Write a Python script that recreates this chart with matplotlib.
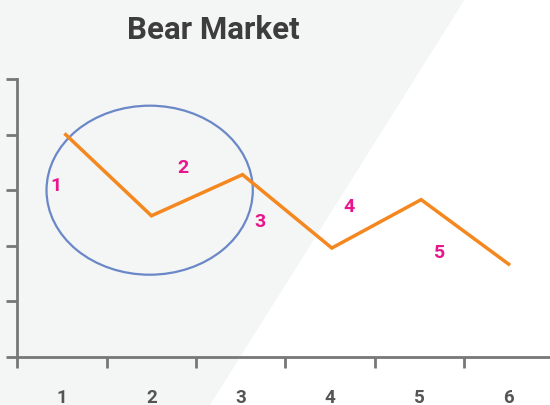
import matplotlib
matplotlib.use('Agg')
import matplotlib.pyplot as plt
from matplotlib.patches import Ellipse, Polygon

# data
labels = ['1', '2', '3', '4', '5', '6']
xs = [1.04, 2.0, 3.02, 4.02, 5.02, 6.0]
prices = [4.0, 2.54, 3.28, 1.96, 2.83, 1.67]

wave_labels = ['1', '2', '3', '4', '5']
wave_x = [0.93, 2.35, 3.21, 4.21, 5.23]
wave_y = [3.09, 3.41, 2.45, 2.72, 1.89]

circle_center = (1.98, 3.0)
circle_w = 2.31
circle_h = 3.04

plt.rcParams['font.family'] = ['Roboto', 'DejaVu Sans']

fig = plt.figure(figsize=(5.5, 4.06), dpi=100)
fig.patch.set_facecolor('white')

# grey diagonal panel behind the chart
bg = Polygon([(0, 0), (0, 1), (465 / 550, 1), (210 / 550, 0)],
             closed=True, transform=fig.transFigure,
             facecolor='#f4f5f5', edgecolor='none', zorder=-10)
fig.patches.append(bg)

ax = fig.add_axes([17.5 / 550, 48 / 406, 1 - 17.5 / 550, 278 / 406])
ax.patch.set_alpha(0)

ax.plot(xs, prices, color='#f5871f', lw=2.5, solid_joinstyle='miter', zorder=3)

ell = Ellipse(circle_center, circle_w, circle_h, fill=False,
              edgecolor='#6a88c8', lw=1.6, zorder=2)
ax.add_patch(ell)

for t, x, y in zip(wave_labels, wave_x, wave_y):
    ax.text(x, y, t, color='#e8158c', fontsize=14, fontweight='bold',
            ha='center', va='center')

ax.set_xlim(0.5, 0.5 + 532.5 / 89.3)
ax.set_ylim(0, 5)

for s in ['top', 'right']:
    ax.spines[s].set_visible(False)
for s in ['left', 'bottom']:
    ax.spines[s].set_color('#777777')
    ax.spines[s].set_linewidth(2)

ax.set_xticks([0.5, 1.5, 2.5, 3.5, 4.5, 5.5])
ax.set_xticklabels([])
ax.set_xticks([1, 2, 3, 4, 5, 6], minor=True)
ax.set_xticklabels(labels, minor=True)
ax.set_yticks([0, 1, 2, 3, 4, 5])
ax.set_yticklabels([])
ax.tick_params(axis='both', which='major', length=8, width=2, color='#777777')
ax.tick_params(axis='x', which='minor', length=0, pad=22,
               labelsize=13.5, labelcolor='#555555')
for lb in ax.get_xticklabels(minor=True):
    lb.set_fontweight('bold')

fig.text(213 / 550, 1 - 30 / 406, 'Bear Market', ha='center', va='center',
         fontsize=22.5, fontweight='bold', color='#3d3d3d')

fig.savefig('out.png', dpi=100)
